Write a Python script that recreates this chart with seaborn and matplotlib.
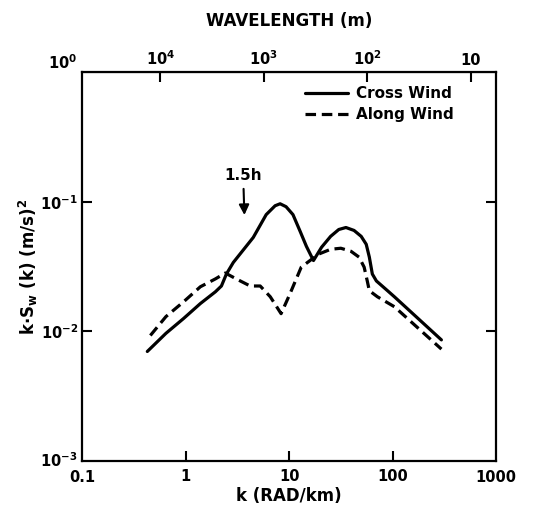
import numpy as np
import pandas as pd
import matplotlib
matplotlib.use("Agg")
import matplotlib.pyplot as plt
import seaborn as sns

# Data
cross_k = [0.427, 0.646, 0.955, 1.39, 1.94, 2.22, 2.48, 2.89, 4.51, 6.01, 7.33, 8.19, 9.35, 10.9,
           12.8, 14.7, 17.2, 20.6, 25.2, 30.2, 35.4, 42.4, 49.7, 55.6, 59.6, 63.7, 69.7, 89.3,
           104, 296]
cross_s = [0.0070, 0.00966, 0.01256, 0.0164, 0.0202, 0.0224, 0.0277, 0.034, 0.0531, 0.0796,
           0.0932, 0.0965, 0.0916, 0.0796, 0.059, 0.0453, 0.0352, 0.0446, 0.0541, 0.0611,
           0.0633, 0.0601, 0.0541, 0.047, 0.0374, 0.0277, 0.0245, 0.0206, 0.0185, 0.0086]

along_k = [0.457, 0.646, 0.955, 1.39, 1.94, 2.42, 3.09, 4.21, 5.26, 6.58, 8.37, 10.2, 13.1,
           19.2, 25.2, 31.6, 39.6, 47.4, 53.1, 56.9, 59.6, 71.3, 104, 296]
along_s = [0.0093, 0.013, 0.0169, 0.0221, 0.0254, 0.0282, 0.0254, 0.0224, 0.0224, 0.0185,
           0.0137, 0.0195, 0.0313, 0.0394, 0.043, 0.0438, 0.0415, 0.0374, 0.0313, 0.0245,
           0.0206, 0.0185, 0.0155, 0.0073]

x_ticks = [1, 10, 100]
x_ticklabels = ["1", "10", "100"]
y_ticks = [1e-2, 1e-1]
y_ticklabels = ["10$^{-2}$", "10$^{-1}$"]
wl_ticks = [1e4, 1e3, 1e2, 10]
wl_ticklabels = ["10$^4$", "10$^3$", "10$^2$", "10"]

sns.set_style("ticks")
plt.rcParams['font.family'] = ['DejaVu Sans']
plt.rcParams['font.weight'] = 'bold'
plt.rcParams['mathtext.default'] = 'bf'
for key in ['text.color', 'axes.labelcolor', 'xtick.color', 'ytick.color', 'axes.edgecolor']:
    plt.rcParams[key] = 'black'

fig = plt.figure(figsize=(5.47, 5.07), dpi=100)
ax = fig.add_axes([0.150, 0.0907, 0.757, 0.767])

df_c = pd.DataFrame({"k": cross_k, "S": cross_s})
df_a = pd.DataFrame({"k": along_k, "S": along_s})
sns.lineplot(data=df_c, x="k", y="S", ax=ax, color="black", lw=2.3, label="Cross Wind", sort=False)
sns.lineplot(data=df_a, x="k", y="S", ax=ax, color="black", lw=2.3, label="Along Wind", sort=False)
ax.lines[1].set_dashes([3.3, 1.8])

ax.set_xscale("log")
ax.set_yscale("log")
ax.set_xlim(0.1, 1000)
ax.set_ylim(1e-3, 1)
ax.minorticks_off()
ax.set_xticks(x_ticks)
ax.set_xticklabels(x_ticklabels)
ax.set_yticks(y_ticks)
ax.set_yticklabels(y_ticklabels)
ax.tick_params(axis="both", which="major", direction="in", length=7, width=1.5,
               labelsize=10.5, right=True, pad=6, colors="black")
ax.tick_params(axis="y", pad=3)
ax.tick_params(axis="x", top=False)

for sp in ax.spines.values():
    sp.set_linewidth(1.6)
    sp.set_color("black")

# corner labels
ax.text(0.1, -0.043, "0.1", transform=ax.get_xaxis_transform(), ha="center", va="center",
        fontsize=10.5, fontweight="bold")
ax.text(1000, -0.043, "1000", transform=ax.get_xaxis_transform(), ha="center", va="center",
        fontsize=10.5, fontweight="bold")
ax.text(-0.012, 1e-3, "10$^{-3}$", transform=ax.get_yaxis_transform(), ha="right", va="center",
        fontsize=10.5, fontweight="bold")
ax.text(-0.012, 1.0, "10$^{0}$", transform=ax.get_yaxis_transform(), ha="right", va="bottom",
        fontsize=10.5, fontweight="bold")

ax.set_xlabel("k (RAD/km)", fontsize=12, fontweight="bold", labelpad=2)
ax.set_ylabel("k$\\cdot$S$_w$ (k) (m/s)$^2$", fontsize=12, fontweight="bold", labelpad=0)

C = 5700.0
sec = ax.secondary_xaxis("top", functions=(lambda k: C / np.asarray(k, dtype=float),
                                           lambda w: C / np.asarray(w, dtype=float)))
sec.set_xticks(wl_ticks)
sec.set_xticklabels(wl_ticklabels)
sec.minorticks_off()
sec.tick_params(axis="x", which="major", direction="in", length=7, width=1.5, labelsize=10.5,
                pad=3, colors="black")
sec.tick_params(axis="x", which="minor", length=0)
sec.set_xlabel("WAVELENGTH (m)", fontsize=12, fontweight="bold", labelpad=17)

ax.annotate("1.5h", xy=(3.7, 0.079), xytext=(3.6, 0.16), ha="center", va="center",
            fontsize=11, fontweight="bold",
            arrowprops=dict(arrowstyle="-|>", color="black", lw=1.5, mutation_scale=15,
                            shrinkA=2, shrinkB=0))

leg = ax.legend(loc="upper right", bbox_to_anchor=(0.93, 1.0), frameon=False, fontsize=11,
                handlelength=2.8, handletextpad=0.5, labelspacing=0.4)

fig.savefig("out.png", dpi=100)
